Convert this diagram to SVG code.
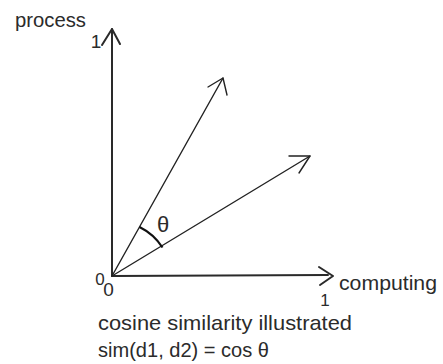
<svg xmlns="http://www.w3.org/2000/svg" width="443" height="364" viewBox="0 0 443 364">
  <style>
    .ax { stroke: #2a2a2a; stroke-width: 2; fill: none; stroke-linecap: round; stroke-linejoin: round; }
    .vec { stroke: #222; stroke-width: 1.4; fill: none; stroke-linecap: round; stroke-linejoin: round; }
    .arc { stroke: #111; stroke-width: 2.2; fill: none; }
    text { font-family: "Liberation Sans", Arial, sans-serif; fill: #2b2b2b; }
  </style>
  <rect width="443" height="364" fill="#ffffff"/>
  <g id="connectors">
    <g id="y-axis">
      <line class="ax" x1="112" y1="276" x2="112" y2="29"/>
      <polyline class="ax" points="102,45 112,29 120,44" stroke-width="1.5"/>
    </g>
    <g id="x-axis">
      <line class="ax" x1="112" y1="276" x2="328" y2="275"/>
      <polyline class="ax" points="319,267 333,276 320,285" stroke-width="1.5"/>
    </g>
    <g id="vector-d1">
      <line class="vec" x1="112" y1="276" x2="223" y2="78"/>
      <polyline class="vec" points="208,87 223,78 227,95"/>
    </g>
    <g id="vector-d2">
      <line class="vec" x1="112" y1="276" x2="310" y2="156"/>
      <polyline class="vec" points="289,156 310,156 299,173"/>
    </g>
    <path id="angle-arc" class="arc" d="M139.5,227 A58,58 0 0 1 162.5,247.5"/>
  </g>
  <g id="labels">
    <text id="label-process" x="15" y="26.5" font-size="21" textLength="71" lengthAdjust="spacingAndGlyphs">process</text>
    <text id="label-y1" x="96" y="48" font-size="19" text-anchor="middle">1</text>
    <text id="label-theta" x="163" y="232" font-size="22" text-anchor="middle">θ</text>
    <text id="label-0a" x="100" y="285" font-size="17" text-anchor="middle">0</text>
    <text id="label-0b" x="108.5" y="296" font-size="19" text-anchor="middle">0</text>
    <text id="label-computing" x="339" y="290" font-size="21" textLength="98" lengthAdjust="spacingAndGlyphs">computing</text>
    <text id="label-x1" x="325" y="306" font-size="17" text-anchor="middle">1</text>
    <text id="caption-1" x="98" y="329.5" font-size="21" textLength="254" lengthAdjust="spacingAndGlyphs">cosine similarity illustrated</text>
    <text id="caption-2" x="98" y="357" font-size="21" textLength="171" lengthAdjust="spacingAndGlyphs">sim(d1, d2) = cos θ</text>
  </g>
</svg>
